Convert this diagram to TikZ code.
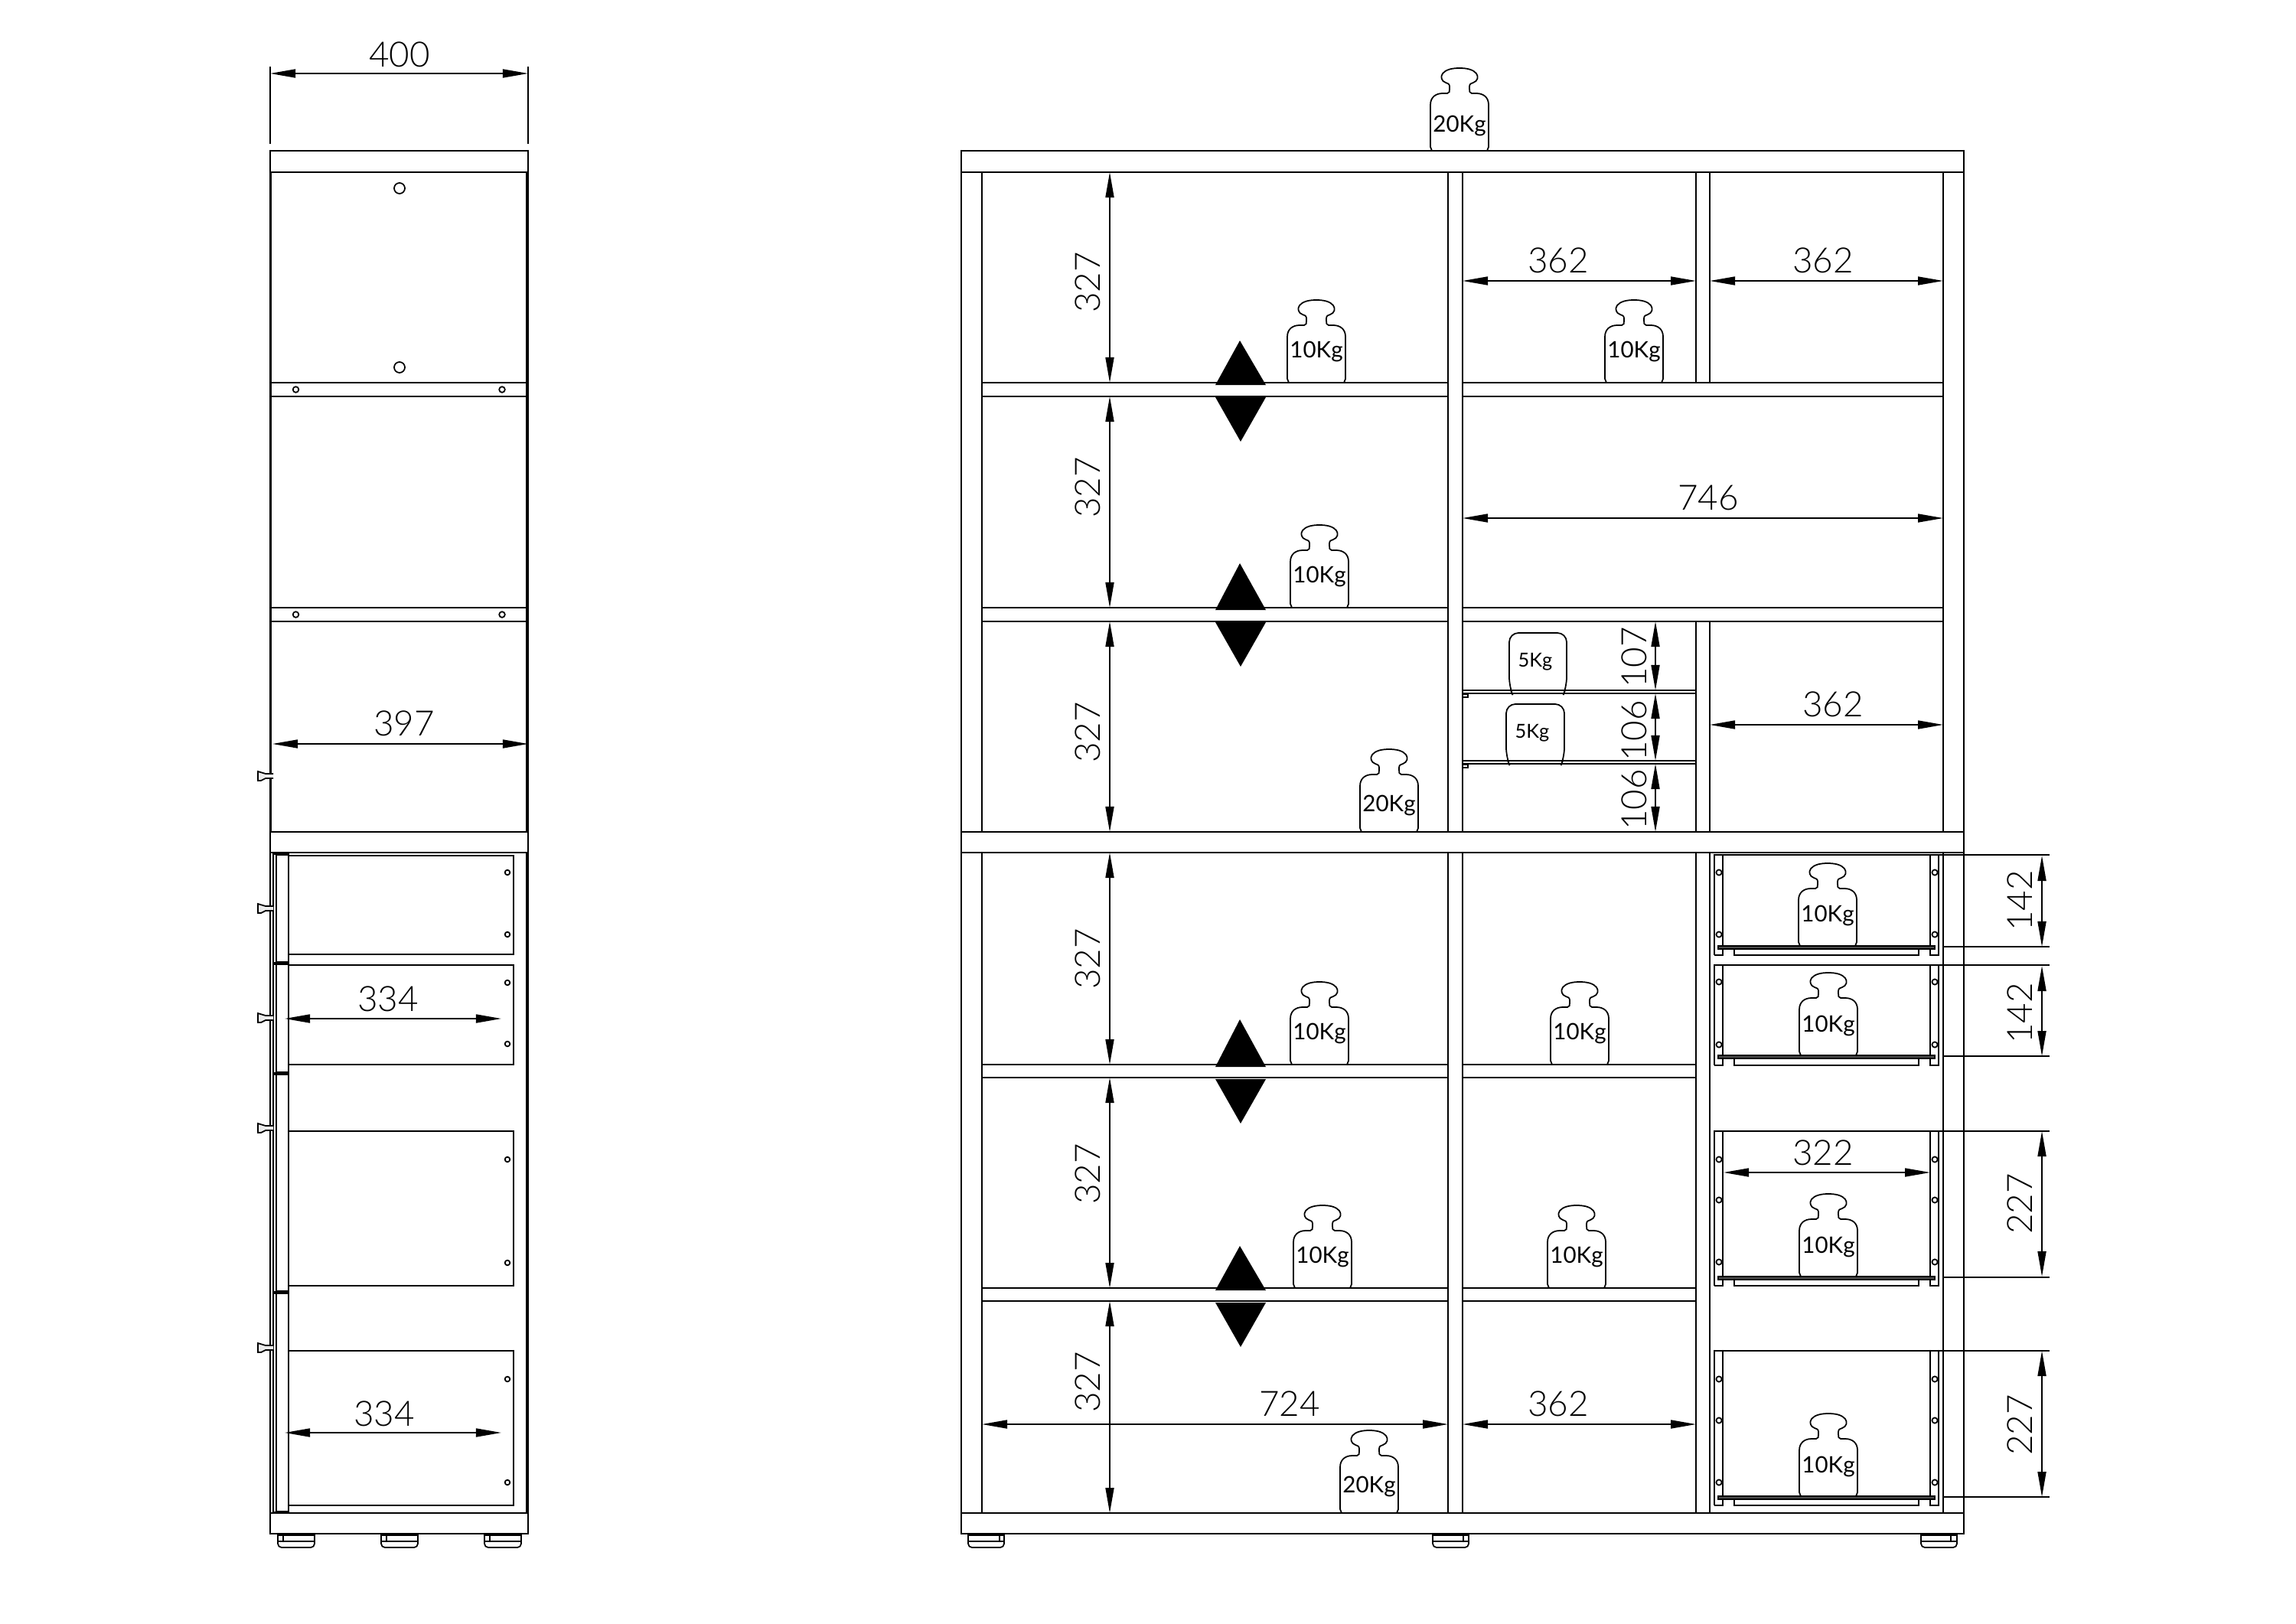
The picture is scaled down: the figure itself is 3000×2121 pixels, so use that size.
\documentclass[tikz,border=0pt]{standalone}
\usepackage{fontspec}
\setmainfont{Lato}[UprightFont=* Light]
\newfontfamily\kgfont{Lato}
\usetikzlibrary{arrows.meta}
\tikzset{
  cabline/.style={line width=0.5pt},
  dimline/.style={line width=0.5pt, {Triangle[length=3.3mm,width=1.1mm]}-{Triangle[length=3.3mm,width=1.1mm]}},
  extline/.style={line width=0.45pt},
  dimtext/.style={font=\fontsize{13}{15}\selectfont, inner sep=0pt},
  kgtext/.style={font=\kgfont\fontsize{8.4}{10}\selectfont, inner sep=0pt},
  smallkg/.style={font=\kgfont\fontsize{7.2}{9}\selectfont, inner sep=0pt}
}
% weight outline, origin at the middle of its foot
\newcommand{\kgweight}[2]{
\draw[cabline, shift={(#1,#2)}] (-36,0) -- (-38,-5) -- (-38,-60) .. controls (-38,-70) and (-31,-75) .. (-22,-75) -- (-16,-75) .. controls (-13,-75) and (-13,-78) .. (-13,-81) -- (-13,-84) .. controls (-13,-88) and (-16,-88) .. (-18,-89) .. controls (-24,-91) and (-25,-97) .. (-22,-101) .. controls (-18,-106) and (-10,-108) .. (0,-108) .. controls (10,-108) and (18,-106) .. (22,-101) .. controls (25,-97) and (24,-91) .. (18,-89) .. controls (16,-88) and (13,-88) .. (13,-84) -- (13,-81) .. controls (13,-78) and (13,-75) .. (16,-75) -- (22,-75) .. controls (31,-75) and (38,-70) .. (38,-60) -- (38,-5) -- (36,0);
}
\newcommand{\drawerfront}[3]{
% #1 top, #2 plate, #3 bottom
\draw[cabline] (2240,#3) -- (2240,#1) -- (2533,#1) -- (2533,#3) -- (2522,#3) -- (2522,#1);
\draw[cabline] (2251,#1) -- (2251,#3) -- (2240,#3);
\filldraw[cabline, fill=black!70] (2245,#2) rectangle (2528,#2+4);
\draw[cabline] (2266,#2+4) rectangle (2507,#3);
}
\begin{document}
\begin{tikzpicture}[x=0.01cm, y=-0.01cm]
\useasboundingbox (0,0) rectangle (3000,2121);
% side view
\draw[cabline] (353,197) rectangle (690,2004);
\draw[cabline] (354.5,225) -- (354.5,1087);
\foreach \yy in {225,1087,1114,1977} \draw[cabline] (353,\yy) -- (690,\yy);
\foreach \yy in {500,518,794,812} \draw[cabline] (354.5,\yy) -- (688,\yy);
\filldraw[cabline, fill=black!45] (688,225) rectangle (690,1087);
\filldraw[cabline, fill=black!45] (688,1114) rectangle (690,1977);
\foreach \yy in {246,480} \draw[cabline] (522,\yy) circle (7);
\foreach \yy in {509,803} \foreach \xx in {386.5,656} \draw[cabline] (\xx,\yy) circle (3.8);
% side view, drawer panels
\foreach \ya/\yb in {1118/1247,1261/1391,1478/1680,1765/1967} \draw[cabline] (377,\ya) -- (671,\ya) -- (671,\yb) -- (377,\yb);
\foreach \yy in {1140,1221,1284,1364,1515,1650,1802,1937} \draw[cabline] (663,\yy) circle (3.3);
% side view, fronts
\foreach \ya/\yb in {1116/1258,1260/1402,1404/1688,1690/1976} {
\draw[cabline] (357,\ya) rectangle (377,\yb);
\draw[cabline] (361,\ya) -- (361,\yb);
\draw[line width=1pt] (361,\yb) -- (377,\yb);
}
\draw[line width=1pt] (361,1116) -- (377,1116);
\foreach \yy in {1014,1187,1330,1474,1761}
\draw[cabline, fill=black!8] (357,\yy-3) -- (347,\yy-3) -- (337,\yy-6) -- (337,\yy+6) -- (341,\yy+6) -- (347,\yy+3) -- (357,\yy+3);
% feet
\foreach \xx in {363,498,633} {
\draw[cabline, rounded corners=0.05cm] (\xx,2005) -- (\xx,2022) -- (\xx+48,2022) -- (\xx+48,2005);
\draw[line width=1pt] (\xx,2005) -- (\xx+48,2005);
\draw[cabline] (\xx,2014) -- (\xx+48,2014);
\draw[cabline] (\xx+7,2005) -- (\xx+7,2014);
}
% front view, carcass
\draw[cabline] (1256,197) rectangle (2566,2004);
\foreach \yy in {225,1087,1114,1977} \draw[cabline] (1256,\yy) -- (2566,\yy);
\foreach \xx in {1283,2539} {
\draw[cabline] (\xx,225) -- (\xx,1087);
\draw[cabline] (\xx,1114) -- (\xx,1977);
}
\foreach \xx in {1892,1911} {
\draw[cabline] (\xx,225) -- (\xx,1087);
\draw[cabline] (\xx,1114) -- (\xx,1977);
}
\foreach \xx in {2216,2234} {
\draw[cabline] (\xx,225) -- (\xx,500);
\draw[cabline] (\xx,812) -- (\xx,1087);
\draw[cabline] (\xx,1114) -- (\xx,1977);
}
\foreach \yy in {500,518,794,812} {
\draw[cabline] (1283,\yy) -- (1892,\yy);
\draw[cabline] (1911,\yy) -- (2539,\yy);
}
\foreach \yy in {1391,1408,1683,1700} {
\draw[cabline] (1283,\yy) -- (1892,\yy);
\draw[cabline] (1911,\yy) -- (2216,\yy);
}
\foreach \yy in {902,906,994,998} \draw[cabline] (1911,\yy) -- (2216,\yy);
\foreach \yy in {906,998} \draw[cabline] (1911,\yy+1) rectangle (1918,\yy+5);
% load direction marks
\foreach \yy/\ap in {500/445,794/736,1391/1332,1683/1628} {
\fill (1620,\ap) -- (1654,\yy+3) -- (1588,\yy+3) -- cycle;
\fill (1621,\yy+77) -- (1654,\yy+19) -- (1588,\yy+19) -- cycle;
}
% drawers
\drawerfront{1117}{1236}{1248}
\drawerfront{1261}{1379}{1392}
\drawerfront{1478}{1668}{1680}
\drawerfront{1765}{1955}{1967}
\foreach \yy in {1140,1221,1283,1365,1515,1568,1649,1802,1856,1937} {
\draw[cabline] (2246,\yy) circle (3.6);
\draw[cabline] (2528,\yy) circle (3.6);
}
% weights
\foreach \nm/\cx/\by/\ly/\lab in {wa/1720/500/459/10Kg, wb/2135/500/459/10Kg, wc/1724/794/753/10Kg, wd/1724/1391/1350/10Kg, we/2064/1391/1350/10Kg, wf/1728/1683/1642/10Kg, wg/2060/1683/1642/10Kg, wh/2388/1236/1196/10Kg, wi/2389/1379/1340/10Kg, wj/2389/1668/1629/10Kg, wk/2389/1955/1916/10Kg, wl/1907/197/164/20Kg, wm/1815/1087/1052/20Kg, wn/1789/1977/1942/20Kg} {
\kgweight{\cx}{\by}
\node[kgtext] (\nm) at (\cx,\ly) {\lab};
}
\draw[cabline, rounded corners=0.12cm] (1974,902) -- (1972,897) -- (1972,827) -- (2047,827) -- (2047,897) -- (2045,902);
\draw[cabline, rounded corners=0.12cm] (1970,994) -- (1968,989) -- (1968,920) -- (2044,920) -- (2044,989) -- (2042,994);
\node[smallkg] (fa) at (2006,865) {5Kg};
\node[smallkg] (fb) at (2002,958) {5Kg};
% horizontal dimensions
\foreach \nm/\xa/\xb/\yy/\lab/\lx/\ly in {dw/353/690/96/400/522/71, dd/356/690/972/397/528/945, de/372/655/1331/334/507/1305, df/372/655/1872/334/502/1847, da/1911/2216/367/362/2036/340, db/2234/2539/367/362/2382/340, dc/1911/2539/677/746/2232/650, dg/2234/2539/947/362/2395/920, dh/1283/1892/1861/724/1685/1834, di/1911/2216/1861/362/2036/1834, dj/2252/2522/1532/322/2382/1506} {
\draw[dimline] (\xa,\yy) -- (\xb,\yy);
\node[dimtext] (\nm) at (\lx,\ly) {\lab};
}
% vertical dimensions
\foreach \nm/\xx/\ya/\yb/\lab/\lx/\ly in {va/1450/225/500/327/1421/369, vb/1450/518/794/327/1421/637, vc/1450/812/1087/327/1421/957, vd/1450/1114/1391/327/1421/1253, ve/1450/1408/1683/327/1421/1534, vf/1450/1700/1977/327/1421/1806, vg/2163/812/902/107/2135/859, vh/2163/906/994/106/2135/955, vi/2163/998/1087/106/2135/1045, vj/2668/1118/1237/142/2639/1177, vk/2668/1262/1380/142/2639/1324, vl/2668/1478/1668/227/2639/1573, vm/2668/1765/1956/227/2639/1862} {
\draw[dimline] (\xx,\ya) -- (\xx,\yb);
\node[dimtext, rotate=90] (\nm) at (\lx,\ly) {\lab};
}
% extension lines
\foreach \xx in {353,690} \draw[extline] (\xx,87) -- (\xx,188);
\foreach \yy in {1117,1261,1478,1765} \draw[extline] (2533,\yy) -- (2678,\yy);
\foreach \yy in {1237,1380,1669,1956} \draw[extline] (2538,\yy) -- (2678,\yy);
% feet, front view
\foreach \xx/\xi in {1265/1306,1872/1912,2510/2549} {
\draw[cabline, rounded corners=0.05cm] (\xx,2005) -- (\xx,2022) -- (\xx+47,2022) -- (\xx+47,2005);
\draw[line width=1pt] (\xx,2005) -- (\xx+47,2005);
\draw[cabline] (\xx,2014) -- (\xx+47,2014);
\draw[cabline] (\xi,2005) -- (\xi,2014);
}
\end{tikzpicture}
\end{document}
